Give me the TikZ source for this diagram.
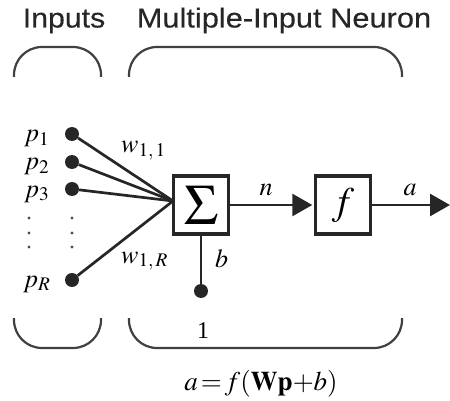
\documentclass[tikz,border=0pt]{standalone}
\usepackage{mathptmx}
\usepackage{fontspec}
\usepackage{graphicx}
\setmainfont{Liberation Serif}
\newfontfamily\helv[FakeBold=0.3]{Liberation Sans}
\usetikzlibrary{arrows.meta}
\begin{document}
\begin{tikzpicture}[x=1pt,y=-1pt,
  wire/.style={line width=2.7pt, draw=black!85},
  arr/.style={wire, -{Triangle[length=20pt,width=22pt]}},
  blk/.style={draw=black!85, line width=3.4pt, minimum width=55pt, minimum height=58pt, inner sep=0pt},
  dot/.style={circle, fill=black!85, inner sep=0pt, minimum size=14pt},
  tdot/.style={circle, fill=black!70, inner sep=0pt, minimum size=3.2pt},
  brk/.style={line width=2.2pt, draw=black!75, rounded corners=28pt},
  lbl/.style={font=\fontsize{26}{30}\selectfont, inner sep=0pt},
  ttl/.style={font=\helv\fontsize{27.5}{30}\selectfont, inner sep=0pt, text=black!85, anchor=base}]
\useasboundingbox (0,0) rectangle (450,401);
% titles
\node[ttl] (tin) at (64,27.5) {\scalebox{1.1}[1]{Inputs}};
\node[ttl] (tneu) at (284,27.5) {\scalebox{1.12}[1]{Multiple-Input Neuron}};
% brackets
\draw[brk] (14,77) -- (14,47) -- (101,47) -- (101,77);
\draw[brk] (129,77) -- (129,47) -- (402,47) -- (402,77);
\draw[brk] (14,318) -- (14,348) -- (101,348) -- (101,318);
\draw[brk] (129,318) -- (129,348) -- (402,348) -- (402,318);
% input dots
\node[dot] (p1) at (72,134) {};
\node[dot] (p2) at (72,162) {};
\node[dot] (p3) at (72,189) {};
\node[dot] (pR) at (72,280) {};
\foreach \yy/\nm in {218/a,233/b,247/c}{
  \node[tdot] (dl\nm) at (29,\yy) {};
  \node[tdot] (dr\nm) at (72,\yy) {};
}
% input labels
\node[lbl, anchor=base west] (lp1) at (24,142) {$p_1$};
\node[lbl, anchor=base west] (lp2) at (24,170) {$p_2$};
\node[lbl, anchor=base west] (lp3) at (24,197) {$p_3$};
\node[lbl, anchor=base west] (lpR) at (23,287) {$p_R$};
% boxes
\node[blk] (sum) at (201,205) {\fontsize{57}{60}\selectfont$\Sigma$};
\node[blk] (f) at (343,205) {\fontsize{39}{40}\selectfont$f$};
\coordinate (j) at (173,201);
\foreach \p in {p1,p2,p3,pR} \draw[wire] (\p) -- (j);
\node[lbl, anchor=base west] (w11) at (121,153) {$w_{1,\,1}$};
\node[lbl, anchor=base west] (w1R) at (121,263) {$w_{1,\,R}$};
% bias
\node[dot] (bd) at (201,291) {};
\draw[wire] (sum) -- (bd);
\node[lbl, anchor=base west] (lb) at (215,267) {$b$};
\node[lbl, anchor=base] (one) at (203,338) {\fontsize{24}{28}\selectfont 1};
% signal path
\draw[arr, shorten >=1.5pt] (sum.east) -- (f.west);
\node[lbl, anchor=base] (ln) at (266,196) {$n$};
\coordinate (out) at (450,205);
\draw[arr] (f.east) -- (out);
\node[lbl, anchor=base] (la) at (410,196) {$a$};
% equation
\node[lbl, anchor=base] (eq) at (261,390) {\fontsize{27}{30}\selectfont$a\,{=}\,f(\mathbf{Wp}{+}b)$};
\end{tikzpicture}
\end{document}
